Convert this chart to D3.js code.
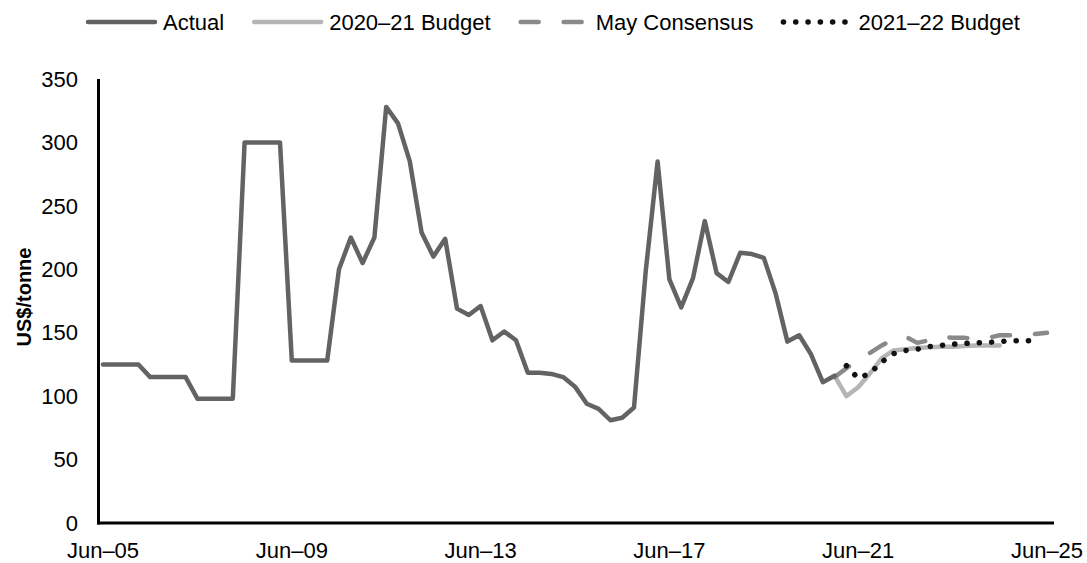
<!DOCTYPE html>
<html>
<head>
<meta charset="utf-8">
<script src="https://cdn.jsdelivr.net/npm/d3@7"></script>
<style>
  html, body { margin: 0; padding: 0; background: #fff; }
  svg { display: block; }
  text { font-family: "Liberation Sans", Arial, sans-serif; fill: #000; }
</style>
</head>
<body>
<svg id="chart" width="1087" height="563"></svg>
<script>
// ---- Data (quarterly, index 0 = Jun-05) ----
const actual = [
  125,125,125,125, 115,115,115,115, 98,98,98,98, 300,300,300,300, 128,128,128,128,
  200,225,205,225, 328,315,285,229, 210,224,169,164, 171,144,151,144,
  118.5,118.5,117.5,115, 107.5,94,90,81, 83,91,199,285,
  192,170,193,238, 197,190,213,212, 209,181,143,148, 133,111,116
];
const actualStart = 0;

const budget2021 = [116,100,107,118,130,136,137,138,138.5,139,139,139.5,140,140,140];
const budget2021Start = 62;

const mayConsensus = [115,122,129,134,140,145,147,142,144,147,146,146,145,146,148,148,148,149,150];
const mayConsensusStart = 62;

const budget2122 = [124,114,118,127,133.5,136,137,139,140,141,141.5,142,142.4,143,143.7,143.7,143.7];
const budget2122Start = 63;

const xTickIndex = [0,16,32,48,64,80];
const xTickLabels = ["Jun\u201305","Jun\u201309","Jun\u201313","Jun\u201317","Jun\u201321","Jun\u201325"];
const yTicks = [0,50,100,150,200,250,300,350];

const legendNames = ["Actual","2020\u201321 Budget","May Consensus","2021\u201322 Budget"];

// ---- Styles ----
const styles = [
  { color: "#636363", dash: null, width: 4.5 },
  { color: "#b5b5b5", dash: null, width: 4.5 },
  { color: "#8a8a8a", dash: "18,25", width: 4.5 },
  { color: "#111111", dash: "0.1,12.2", width: 5.5 }
];

const svg = d3.select("#chart");
const x = d3.scaleLinear().domain([0, 80]).range([103, 1047]);
const y = d3.scaleLinear().domain([0, 350]).range([523, 79]);

const toPts = (arr, start) => arr.map((v, i) => ({ i: start + i, v }));
const line = d3.line().x(d => x(d.i)).y(d => y(d.v));

const seriesData = [
  toPts(actual, actualStart),
  toPts(budget2021, budget2021Start),
  toPts(mayConsensus, mayConsensusStart),
  toPts(budget2122, budget2122Start)
];

// draw order: budget2021, mayConsensus, actual, budget2122
[1, 2, 0, 3].forEach(k => {
  const s = styles[k];
  svg.append("path")
    .datum(seriesData[k])
    .attr("d", line)
    .attr("fill", "none")
    .attr("stroke", s.color)
    .attr("stroke-width", s.width)
    .attr("stroke-linejoin", "round")
    .attr("stroke-linecap", "round")
    .attr("stroke-dasharray", s.dash);
});

// ---- Axes ----
const fontSize = 22;
// y tick labels
svg.append("g").selectAll("text")
  .data(yTicks).join("text")
  .attr("x", 78)
  .attr("y", d => y(d))
  .attr("dy", "0.35em")
  .attr("text-anchor", "end")
  .style("font-size", fontSize + "px")
  .text(d => d);

// x tick labels
svg.append("g").selectAll("text")
  .data(xTickIndex).join("text")
  .attr("x", d => x(d))
  .attr("y", 558)
  .attr("text-anchor", "middle")
  .style("font-size", fontSize + "px")
  .text((d, i) => xTickLabels[i]);

// axis lines
svg.append("line").attr("x1", 98.5).attr("x2", 98.5).attr("y1", 79).attr("y2", y(0) + 1.5)
  .attr("stroke", "#000").attr("stroke-width", 3);
svg.append("line").attr("x1", 97).attr("x2", 1054).attr("y1", y(0)).attr("y2", y(0))
  .attr("stroke", "#000").attr("stroke-width", 3);

// y title
svg.append("text")
  .attr("transform", "translate(31," + 297 + ") rotate(-90)")
  .attr("text-anchor", "middle")
  .style("font-size", "20px")
  .style("font-weight", "bold")
  .text("US$/tonne");

// ---- Legend ----
const leg = svg.append("g");
let lx = 86;
const ly = 22, lineLen = 71;
legendNames.forEach((name, k) => {
  const s = styles[k];
  leg.append("line")
    .attr("x1", lx + 2).attr("x2", lx + lineLen - 2).attr("y1", ly).attr("y2", ly)
    .attr("stroke", s.color).attr("stroke-width", s.width)
    .attr("stroke-linecap", "round")
    .attr("stroke-dasharray", s.dash);
  const t = leg.append("text")
    .attr("x", lx + lineLen + 6).attr("y", ly).attr("dy", "0.35em")
    .style("font-size", fontSize + "px")
    .text(name);
  lx = lx + lineLen + 6 + t.node().getComputedTextLength() + 28;
});
</script>
</body>
</html>
